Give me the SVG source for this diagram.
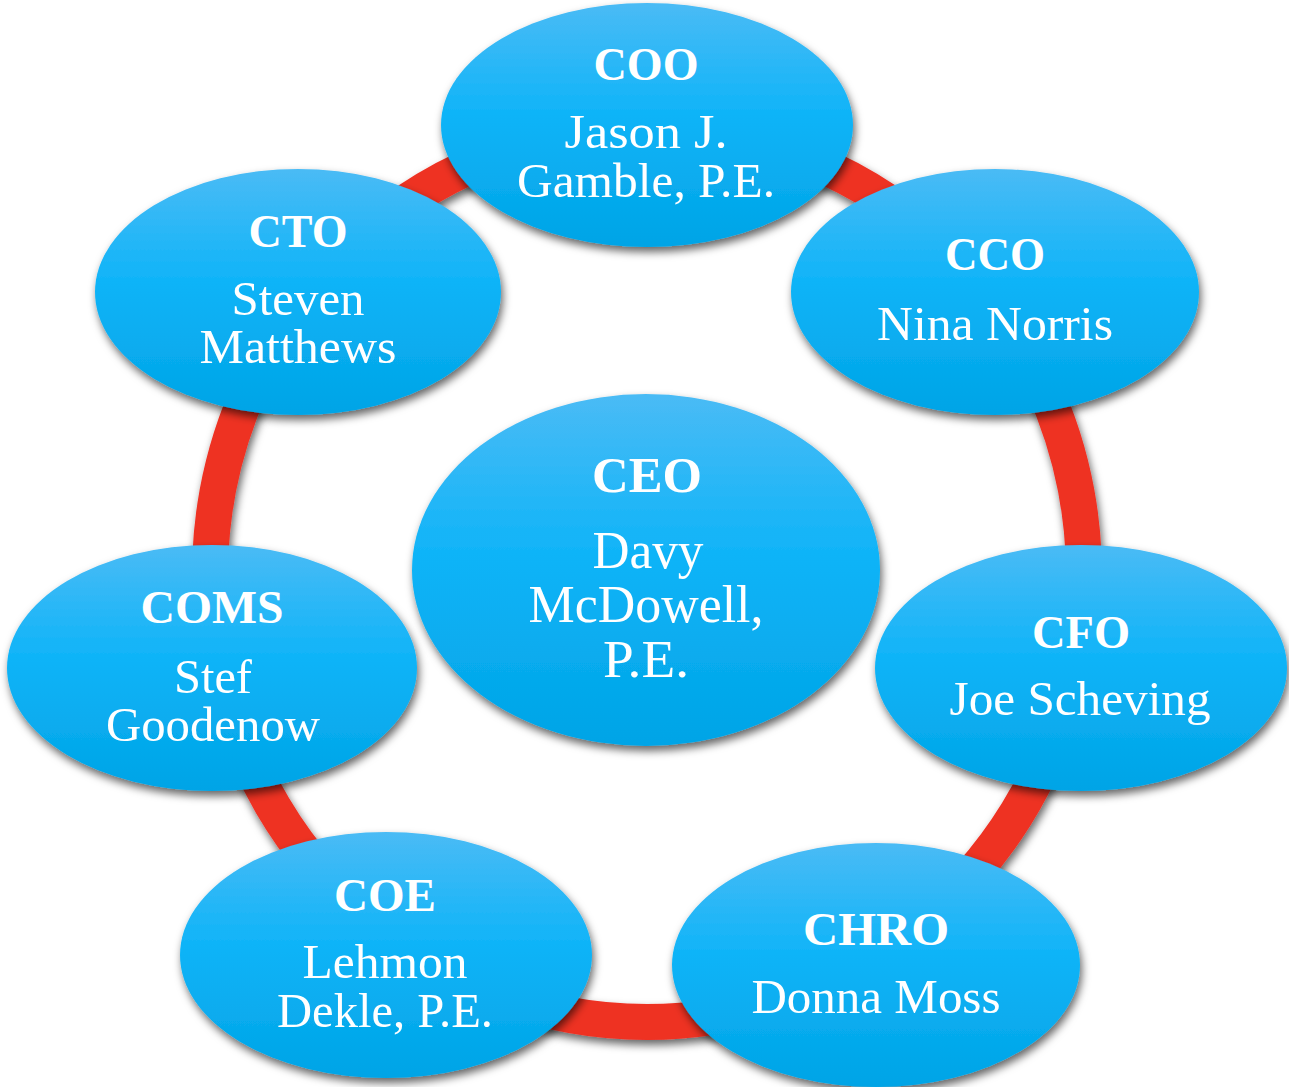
<svg xmlns="http://www.w3.org/2000/svg" width="1289" height="1087" viewBox="0 0 1289 1087">
<defs>
<linearGradient id="g" x1="0" y1="0" x2="0" y2="1">
<stop offset="0" stop-color="#4abbf5"/>
<stop offset="0.45" stop-color="#10b4f8"/>
<stop offset="1" stop-color="#00a4e6"/>
</linearGradient>
<filter id="sh" x="-10%" y="-10%" width="120%" height="125%">
<feDropShadow dx="2" dy="5" stdDeviation="4" flood-color="#000" flood-opacity="0.6"/>
</filter>
<style>
.n{fill:url(#g);filter:url(#sh)}
.t{font-family:"Liberation Serif","DejaVu Serif",serif;fill:#fff;text-anchor:middle}
.h{font-weight:bold;font-size:46px}
.m{font-size:48px}
.c{font-size:52px}
</style>
</defs>
<rect width="1289" height="1087" fill="#fff"/>
<g id="connectors">
<ellipse cx="647" cy="575" rx="437" ry="447" fill="none" stroke="#ee3024" stroke-width="36" filter="url(#sh)"/>
</g>
<g id="coo">
<ellipse class="n" cx="647" cy="125" rx="206" ry="122"/>
<text class="t h" x="646" y="80" textLength="105" lengthAdjust="spacingAndGlyphs">COO</text>
<text class="t m" x="646" y="148" textLength="163" lengthAdjust="spacingAndGlyphs">Jason J.</text>
<text class="t m" x="646" y="197" textLength="258" lengthAdjust="spacingAndGlyphs">Gamble, P.E.</text>
</g>
<g id="cco">
<ellipse class="n" cx="995" cy="292" rx="204" ry="123"/>
<text class="t h" x="995" y="270" textLength="100" lengthAdjust="spacingAndGlyphs">CCO</text>
<text class="t m" x="995" y="340" textLength="236" lengthAdjust="spacingAndGlyphs">Nina Norris</text>
</g>
<g id="cfo">
<ellipse class="n" cx="1081" cy="668" rx="206" ry="123"/>
<text class="t h" x="1081" y="648" textLength="98" lengthAdjust="spacingAndGlyphs">CFO</text>
<text class="t m" x="1080" y="715" textLength="261" lengthAdjust="spacingAndGlyphs">Joe Scheving</text>
</g>
<g id="chro">
<ellipse class="n" cx="876" cy="965" rx="204" ry="122"/>
<text class="t h" x="876" y="945" textLength="146" lengthAdjust="spacingAndGlyphs">CHRO</text>
<text class="t m" x="876" y="1013" textLength="249" lengthAdjust="spacingAndGlyphs">Donna Moss</text>
</g>
<g id="coe">
<ellipse class="n" cx="386" cy="955" rx="206" ry="123"/>
<text class="t h" x="385" y="911" textLength="102" lengthAdjust="spacingAndGlyphs">COE</text>
<text class="t m" x="385" y="978" textLength="165" lengthAdjust="spacingAndGlyphs">Lehmon</text>
<text class="t m" x="385" y="1027" textLength="216" lengthAdjust="spacingAndGlyphs">Dekle, P.E.</text>
</g>
<g id="coms">
<ellipse class="n" cx="212" cy="668" rx="205" ry="123"/>
<text class="t h" x="212" y="623" textLength="143" lengthAdjust="spacingAndGlyphs">COMS</text>
<text class="t m" x="213" y="693" textLength="78" lengthAdjust="spacingAndGlyphs">Stef</text>
<text class="t m" x="213" y="741" textLength="214" lengthAdjust="spacingAndGlyphs">Goodenow</text>
</g>
<g id="cto">
<ellipse class="n" cx="298" cy="292" rx="203" ry="123"/>
<text class="t h" x="298" y="247" textLength="99" lengthAdjust="spacingAndGlyphs">CTO</text>
<text class="t m" x="298" y="315" textLength="133" lengthAdjust="spacingAndGlyphs">Steven</text>
<text class="t m" x="298" y="363" textLength="197" lengthAdjust="spacingAndGlyphs">Matthews</text>
</g>
<g id="ceo">
<ellipse class="n" cx="646" cy="570" rx="234" ry="176"/>
<text class="t h" x="647" y="492" style="font-size:51px" textLength="110" lengthAdjust="spacingAndGlyphs">CEO</text>
<text class="t c" x="648" y="568" textLength="111" lengthAdjust="spacingAndGlyphs">Davy</text>
<text class="t c" x="646" y="622" textLength="235" lengthAdjust="spacingAndGlyphs">McDowell,</text>
<text class="t c" x="646" y="677" textLength="86" lengthAdjust="spacingAndGlyphs">P.E.</text>
</g>
</svg>
